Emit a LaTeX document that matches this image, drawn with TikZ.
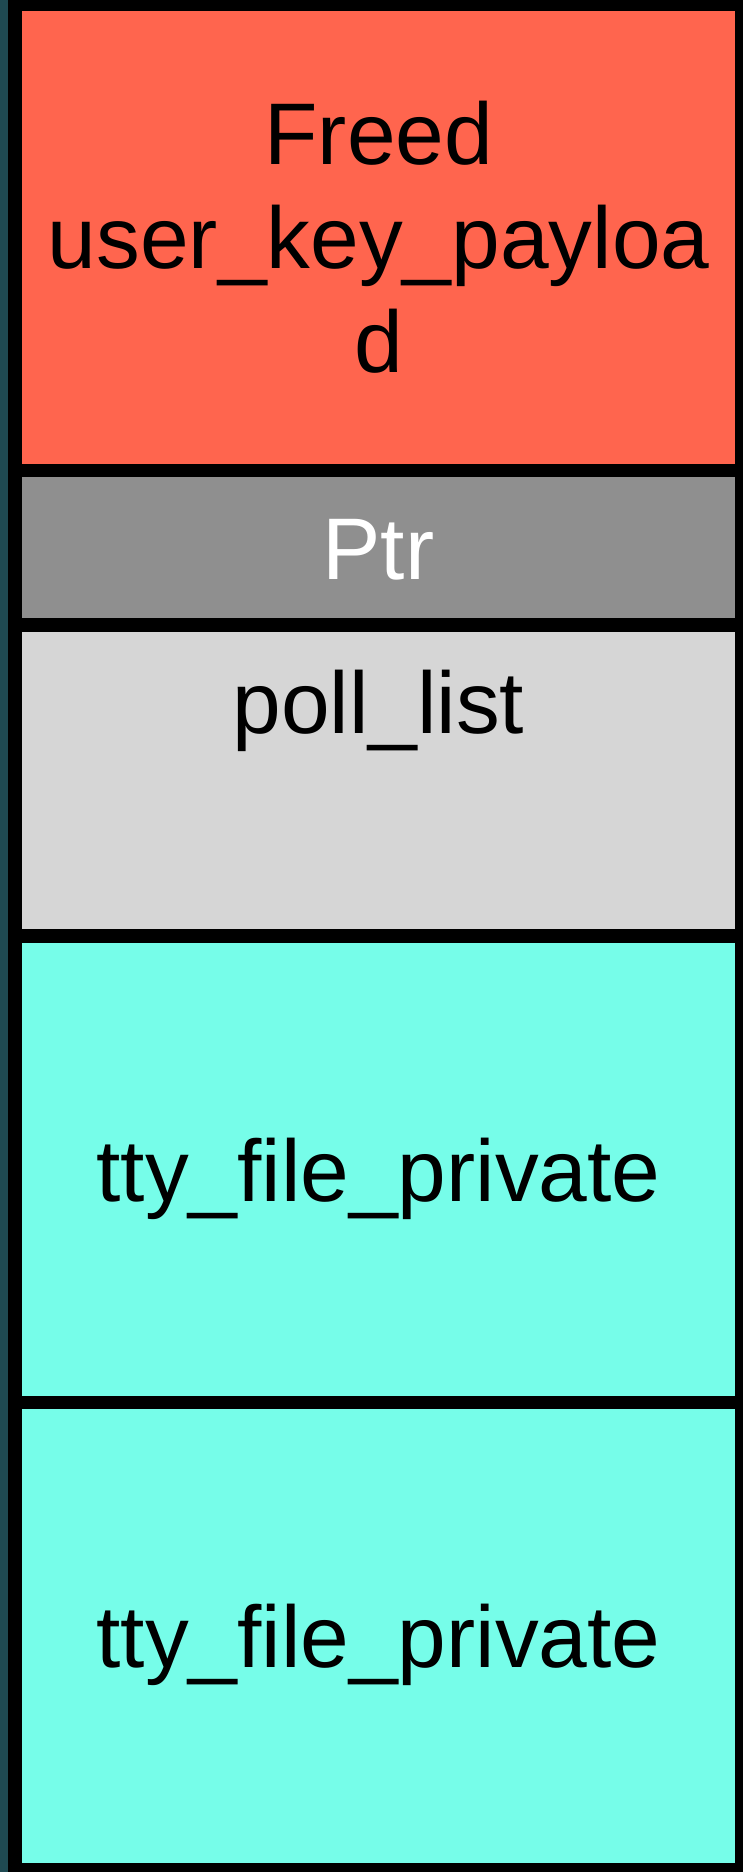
\documentclass[tikz,border=0pt]{standalone}
\usepackage{fontspec}
\setmainfont{Liberation Sans}
\usepackage{xcolor}
\usepackage{tikz}
\usetikzlibrary{positioning}
\definecolor{stripx}{HTML}{1F4A52}
\definecolor{freedx}{HTML}{FF654E}
\definecolor{ptrx}{HTML}{8F8F8F}
\definecolor{pollx}{HTML}{D6D6D6}
\definecolor{ttyx}{HTML}{76FDE9}
\tikzset{
  cell/.style={anchor=north west,inner sep=0pt,minimum width=713pt},
  lbl/.style={font=\fontsize{87.5}{104}\selectfont,align=center,inner sep=0pt}
}
\begin{document}
\begin{tikzpicture}[x=1pt,y=-1pt]
\fill[stripx] (0,0) rectangle (8,1872);
\fill[black] (8,0) rectangle (743,1872);
\node[cell,fill=freedx,minimum height=453pt] (freed) at (22,11) {};
\node[cell,fill=ptrx,minimum height=141pt] (ptr) at (22,477) {};
\node[cell,fill=pollx,minimum height=297pt] (poll) at (22,632) {};
\node[cell,fill=ttyx,minimum height=453pt] (ttya) at (22,943) {};
\node[cell,fill=ttyx,minimum height=454pt] (ttyb) at (22,1409) {};
\node[lbl] (freedtxt) at (freed.center) {Freed\\user\_key\_payloa\\d};
\node[lbl,white,anchor=base] (ptrtxt) at (378.5,579) {Ptr};
\node[lbl,anchor=base] (polltxt) at (378.5,733) {poll\_list};
\node[lbl,anchor=base] (ttyatxt) at (378.5,1201) {tty\_file\_private};
\node[lbl,anchor=base] (ttybtxt) at (378.5,1667) {tty\_file\_private};
\end{tikzpicture}
\end{document}
